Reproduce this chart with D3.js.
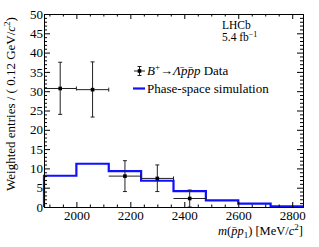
<!DOCTYPE html>
<html>
<head>
<meta charset="utf-8">
<script src="https://cdn.jsdelivr.net/npm/d3@7"></script>
<style>
  body { margin: 0; background: #fff; }
  svg text { font-family: "Liberation Serif", "DejaVu Serif", "Times New Roman", serif !important; fill: #000; }
</style>
</head>
<body>
<div id="chart-area"></div>
<script>
// histogram bin edges (MeV) and phase-space simulation per bin
const binEdges = [1880, 2000, 2120, 2240, 2360, 2480, 2600, 2720, 2840];
const simValues = [8.1, 11.2, 9.3, 6.8, 4.1, 1.7, 0.9, 0.2];

// data points (bin centres)
const dataMass = [1940, 2060, 2180, 2300, 2420];
const dataValues = [30.7, 30.4, 8.0, 7.4, 2.2];
const dataErrUp = [6.8, 7.2, 4.0, 3.5, 2.2];
const dataErrDown = [6.7, 7.1, 4.0, 3.4, 2.2];

const xTicks = [2000, 2200, 2400, 2600, 2800];
const yTicks = [0, 5, 10, 15, 20, 25, 30, 35, 40, 45, 50];

const W = 319, H = 247;
const margin = {top: 14, right: 16, bottom: 40, left: 44};
const w = W - margin.left - margin.right;
const h = H - margin.top - margin.bottom;
const FONT = "Liberation Serif, DejaVu Serif, serif";

const svg = d3.select("#chart-area")
    .append("svg")
    .attr("width", W)
    .attr("height", H)
    .attr("font-family", FONT);

const g = svg.append("g")
    .attr("transform", "translate(" + margin.left + "," + margin.top + ")");

const x = d3.scaleLinear().domain([1880, 2840]).range([0, w]);
const y = d3.scaleLinear().domain([0, 50]).range([h, 0]);

const xMinor = d3.range(1900, 2840, 50).filter(d => xTicks.indexOf(d) < 0);
const yMinor = d3.range(0, 51, 1).filter(d => yTicks.indexOf(d) < 0);

// simulation histogram
const steps = [];
simValues.forEach(function (v, i) {
    steps.push([binEdges[i], v]);
    steps.push([binEdges[i + 1], v]);
});
steps.unshift([binEdges[0], 0]);

g.append("path")
    .datum(steps)
    .attr("fill", "none")
    .attr("stroke", "#1010ff")
    .attr("stroke-width", 2.2)
    .attr("d", d3.line().x(d => x(d[0])).y(d => y(d[1])));

// data points
const pts = g.selectAll(".pt")
    .data(dataMass.map((m, i) => ({m: m, v: dataValues[i], up: dataErrUp[i], dn: dataErrDown[i]})))
    .enter().append("g")
    .attr("class", "pt");

pts.append("line")
    .attr("x1", d => x(d.m - 60)).attr("x2", d => x(d.m + 60))
    .attr("y1", d => y(d.v)).attr("y2", d => y(d.v))
    .attr("stroke", "#222").attr("stroke-width", 1);
pts.append("line")
    .attr("x1", d => x(d.m)).attr("x2", d => x(d.m))
    .attr("y1", d => y(d.v + d.up)).attr("y2", d => y(Math.max(0, d.v - d.dn)))
    .attr("stroke", "#222").attr("stroke-width", 1);
// caps
pts.append("line")
    .attr("x1", d => x(d.m) - 2).attr("x2", d => x(d.m) + 2)
    .attr("y1", d => y(d.v + d.up)).attr("y2", d => y(d.v + d.up))
    .attr("stroke", "#222");
pts.append("line")
    .attr("x1", d => x(d.m) - 2).attr("x2", d => x(d.m) + 2)
    .attr("y1", d => y(Math.max(0, d.v - d.dn))).attr("y2", d => y(Math.max(0, d.v - d.dn)))
    .attr("stroke", "#222");
pts.append("line")
    .attr("x1", d => x(d.m + 60)).attr("x2", d => x(d.m + 60))
    .attr("y1", d => y(d.v) - 2).attr("y2", d => y(d.v) + 2)
    .attr("stroke", "#222");
pts.append("rect")
    .attr("x", d => x(d.m) - 1.8).attr("y", d => y(d.v) - 1.8)
    .attr("width", 3.6).attr("height", 3.6)
    .attr("fill", "#000");

// axes
function styleAxis(sel) {
    sel.attr("font-family", FONT);
    sel.selectAll("path.domain").attr("stroke", "#000").attr("stroke-width", 1);
    sel.selectAll(".tick line").attr("stroke", "#000");
    sel.selectAll("text").attr("font-size", 13);
}

g.append("g").attr("transform", "translate(0," + h + ")")
    .call(d3.axisBottom(x).tickValues(xTicks).tickSize(-5).tickSizeOuter(0).tickPadding(4).tickFormat(d3.format("d")))
    .call(styleAxis);
g.append("g").attr("transform", "translate(0," + h + ")")
    .call(d3.axisBottom(x).tickValues(xMinor).tickSize(-2.5).tickSizeOuter(0).tickFormat(""))
    .call(styleAxis);
g.append("g")
    .call(d3.axisTop(x).tickValues(xTicks).tickSize(-5).tickSizeOuter(0).tickFormat(""))
    .call(styleAxis);
g.append("g")
    .call(d3.axisTop(x).tickValues(xMinor).tickSize(-2.5).tickSizeOuter(0).tickFormat(""))
    .call(styleAxis);

g.append("g")
    .call(d3.axisLeft(y).tickValues(yTicks).tickSize(-6).tickSizeOuter(0).tickPadding(1))
    .call(styleAxis);
g.append("g")
    .call(d3.axisLeft(y).tickValues(yMinor).tickSize(-3).tickSizeOuter(0).tickFormat(""))
    .call(styleAxis);
g.append("g").attr("transform", "translate(" + w + ",0)")
    .call(d3.axisRight(y).tickValues(yTicks).tickSize(-6).tickSizeOuter(0).tickFormat(""))
    .call(styleAxis);
g.append("g").attr("transform", "translate(" + w + ",0)")
    .call(d3.axisRight(y).tickValues(yMinor).tickSize(-3).tickSizeOuter(0).tickFormat(""))
    .call(styleAxis);

// axis titles
const yTitle = svg.append("text")
    .attr("transform", "translate(15,104) rotate(-90)")
    .attr("text-anchor", "middle")
    .attr("font-size", 13);
yTitle.append("tspan").text("Weighted entries / ( 0.12 GeV/");
yTitle.append("tspan").attr("font-style", "italic").text("c");
yTitle.append("tspan").attr("font-size", 9).attr("dy", -5).text("2");
yTitle.append("tspan").attr("dy", 5).text(")");

const xTitle = svg.append("text")
    .attr("x", margin.left + w).attr("y", 235)
    .attr("text-anchor", "end")
    .attr("font-size", 12.5);
xTitle.append("tspan").attr("font-style", "italic").text("m");
xTitle.append("tspan").text("(");
xTitle.append("tspan").attr("font-style", "italic").text("p\u0304p");
xTitle.append("tspan").attr("font-size", 9).attr("dy", 3).text("1");
xTitle.append("tspan").attr("dy", -3).text(") [MeV/");
xTitle.append("tspan").attr("font-style", "italic").text("c");
xTitle.append("tspan").attr("font-size", 9).attr("dy", -5).text("2");
xTitle.append("tspan").attr("dy", 5).text("]");

// LHCb label
svg.append("text").attr("x", 222).attr("y", 29).attr("font-size", 11.5).text("LHCb");
const lumi = svg.append("text").attr("x", 222).attr("y", 41).attr("font-size", 11.5);
lumi.append("tspan").text("5.4 fb");
lumi.append("tspan").attr("font-size", 8).attr("dy", -4).text("\u22121");

// legend
const lg = svg.append("g");
lg.append("line").attr("x1", 134).attr("x2", 145).attr("y1", 71).attr("y2", 71).attr("stroke", "#222");
lg.append("line").attr("x1", 139.5).attr("x2", 139.5).attr("y1", 66.5).attr("y2", 75.5).attr("stroke", "#222");
lg.append("line").attr("x1", 137.5).attr("x2", 141.5).attr("y1", 66.5).attr("y2", 66.5).attr("stroke", "#222");
lg.append("line").attr("x1", 137.5).attr("x2", 141.5).attr("y1", 75.5).attr("y2", 75.5).attr("stroke", "#222");
lg.append("rect").attr("x", 137.7).attr("y", 69.2).attr("width", 3.6).attr("height", 3.6).attr("fill", "#000");

const l1 = lg.append("text").attr("x", 147).attr("y", 75).attr("font-size", 13);
l1.append("tspan").attr("font-style", "italic").text("B");
l1.append("tspan").attr("font-size", 9).attr("dy", -5).text("+");
l1.append("tspan").attr("dy", 5).text("\u2192");
l1.append("tspan").attr("font-style", "italic").text("\u039B\u0304pp\u0304p");
l1.append("tspan").text(" Data");

lg.append("line").attr("x1", 133).attr("x2", 145).attr("y1", 88.5).attr("y2", 88.5)
    .attr("stroke", "#1010ff").attr("stroke-width", 2.2);
lg.append("text").attr("x", 147).attr("y", 93).attr("font-size", 13).text("Phase-space simulation");
</script>
</body>
</html>
